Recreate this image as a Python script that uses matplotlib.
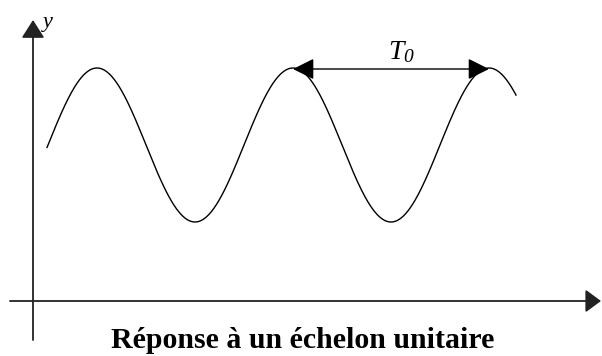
import numpy as np
import matplotlib
matplotlib.use("Agg")
import matplotlib.pyplot as plt

plt.rcParams['mathtext.fontset'] = 'custom'
plt.rcParams['mathtext.it'] = 'Liberation Serif:italic'
plt.rcParams['mathtext.rm'] = 'Liberation Serif:italic'

# sinusoidal response, in pixel-like units from the origin
period = 196.0        # T0
amplitude = 77.0
mean_level = 156.0
first_peak = 64.0
t_start, t_end = 14.0, 483.0

title = "Réponse à un échelon unitaire"
y_label = "y"
period_label = r"$T_{0}$"

t = np.linspace(t_start, t_end, 600)
y = mean_level + amplitude * np.cos(2 * np.pi * (t - first_peak) / period)

fig = plt.figure(figsize=(6.02, 3.56), dpi=100)
ax = fig.add_axes([0, 0, 1, 1])
ax.set_xlim(-33, 569)
ax.set_ylim(-55, 301)
ax.axis('off')

# axes with arrow heads
ax.annotate("", xy=(568, 0), xytext=(-23, 0),
            arrowprops=dict(arrowstyle='-|>,head_length=9.5,head_width=7',
                            mutation_scale=1, color='#222222', lw=1.3,
                            shrinkA=0, shrinkB=0))
ax.annotate("", xy=(0, 281), xytext=(0, -39),
            arrowprops=dict(arrowstyle='-|>,head_length=11,head_width=7',
                            mutation_scale=1, color='#222222', lw=1.3,
                            shrinkA=0, shrinkB=0))

ax.plot(t, y, color='black', lw=1.0)

# period marker between two peaks
p1 = first_peak + period
p2 = first_peak + 2 * period
ax.annotate("", xy=(p1, mean_level + amplitude - 1), xytext=(p2, mean_level + amplitude - 1),
            arrowprops=dict(arrowstyle='<|-|>,head_length=13,head_width=6.5',
                            mutation_scale=1, color='black', lw=1.0,
                            shrinkA=0, shrinkB=0))
ax.text((p1 + p2) / 2 + 10, mean_level + amplitude + 3, period_label,
        fontsize=20, ha='center', va='bottom')

ax.text(10, 278, y_label, fontsize=16, style='italic',
        family='Liberation Serif', ha='left', va='center')

ax.text(270, -40, title, fontsize=21.5, family='Liberation Serif',
        weight='bold', ha='center', va='center')

fig.savefig("out.png", dpi=100)
